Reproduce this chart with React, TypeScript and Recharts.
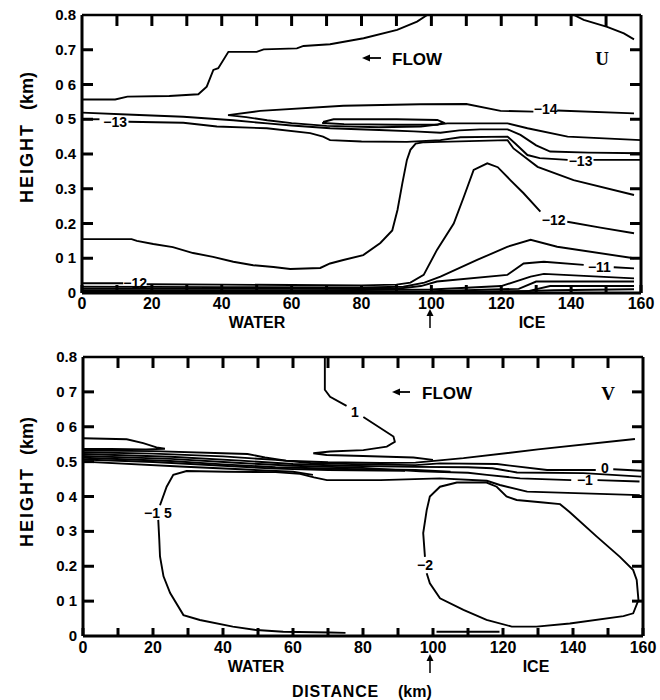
import React from 'react';
import { ScatterChart, Scatter, XAxis, YAxis, ReferenceDot, ReferenceLine } from 'recharts';

type P = [number, number];
type Path = (P | null)[];

const FONT = '"Liberation Sans", Arial, "DejaVu Sans", sans-serif';
const SERIF = '"Liberation Serif", "Times New Roman", serif';

// ---------- axes ----------
const X_MAX = 160;
const Y_MAX = 0.8;
const X_TICKS = [0, 10, 20, 30, 40, 50, 60, 70, 80, 90, 100, 110, 120, 130, 140, 150, 160];
const X_LABELED = [0, 20, 40, 60, 80, 100, 120, 140, 160];
const Y_TICKS = [0, 0.1, 0.2, 0.3, 0.4, 0.5, 0.6, 0.7, 0.8];
const U_Y_LABELS = ['0', '0 1', '0.2', '0.3', '0.4', '0 5', '0 6', '0.7', '0.8'];
const V_Y_LABELS = ['0', '0 1', '0.2', '0 3', '0 4', '0.5', '0 6', '0 7', '0.8'];
const X_INNER = X_TICKS.filter((v) => v > 0 && v < X_MAX);
const Y_INNER = Y_TICKS.filter((v) => v > 0.05 && v < 0.75);

// ---------- U panel contours (null = gap for a label) ----------
const U_UPPER: Path = [[0, 0.557], [9.5, 0.557], [13, 0.565], [25, 0.567], [33.3, 0.572], [35.7, 0.594], [37.6, 0.642], [39, 0.647], [41.9, 0.694], [50, 0.694], [52, 0.701], [61.5, 0.704], [63.4, 0.711], [71, 0.716], [80.6, 0.733], [90.2, 0.757], [95.9, 0.781], [98.8, 0.8]];
const U_TOPRIGHT: Path = [[140.8, 0.8], [143.6, 0.786], [150.3, 0.766], [155.1, 0.747], [158, 0.73]];
const U_M14: Path = [[158, 0.517], [136, 0.525], null, [129.2, 0.522], [119.8, 0.524], [110, 0.544], [96.8, 0.543], [74.8, 0.539], [51, 0.524], [41.8, 0.512], [47, 0.506], [53, 0.497], [60, 0.489], [70, 0.481], [85, 0.477], [97, 0.479], [104.6, 0.488], [121.8, 0.488], [127.5, 0.474], [139, 0.45], [160, 0.44]];
const U_OVAL: Path = [[69, 0.492], [72, 0.5], [90, 0.5], [101.7, 0.498], [103.4, 0.491], [101.7, 0.484], [90, 0.484], [75, 0.486], [69, 0.489], [69, 0.492]];
const U_A: Path = [[0, 0.519], [14.6, 0.513], [29, 0.507], [43.3, 0.497], [53, 0.488], [60, 0.482], [71, 0.474], [85, 0.469], [95, 0.465], [102.6, 0.461], [108, 0.468], [114, 0.471], [121.8, 0.471], [125.5, 0.455], [130, 0.425], [134, 0.407], [145, 0.404], [160, 0.402]];
const U_M13: Path = [[0, 0.5], [5, 0.5], null, [13.3, 0.493], [29, 0.49], [38.6, 0.479], [52.9, 0.474], [65.3, 0.46], [69, 0.45], [71, 0.44], [80, 0.436], [93, 0.435], [102.6, 0.44], [108.3, 0.448], [121.8, 0.45], [124, 0.43], [127.5, 0.397], [131, 0.388], [139, 0.383], null, [146.4, 0.383], [160, 0.383]];
const U_BIG: Path = [[0, 0.155], [14.2, 0.155], [15.7, 0.15], [20.4, 0.141], [26, 0.132], [31.8, 0.115], [37.5, 0.104], [43.3, 0.09], [49, 0.08], [54.8, 0.075], [59.6, 0.069], [68.2, 0.072], [71, 0.085], [74.8, 0.095], [80.5, 0.109], [85.4, 0.144], [88.8, 0.18], [90.3, 0.239], [91.7, 0.316], [93, 0.383], [94, 0.412], [95.5, 0.43], [98, 0.434], [102.6, 0.435], [121.8, 0.44], [123.5, 0.416], [130.4, 0.363], [140.7, 0.325], [158, 0.282]];
const U_M12: Path = [[0, 0.028], [11.8, 0.028], null, [18.5, 0.025], [40, 0.024], [60, 0.023], [80, 0.022], [90, 0.024], [94, 0.03], [97.8, 0.052], [101.6, 0.124], [106.4, 0.2], [109.3, 0.277], [112.1, 0.354], [116, 0.373], [119, 0.362], [122.6, 0.325], [126.4, 0.287], [131.2, 0.234], null, [138.9, 0.205], [148.4, 0.188], [158, 0.172]];
const U_M115: Path = [[0, 0.018], [40, 0.017], [80, 0.016], [92, 0.018], [98, 0.03], [102.6, 0.047], [113.1, 0.095], [121.7, 0.133], [128.4, 0.153], [136, 0.133], [158, 0.1]];
const U_M11: Path = [[0, 0.012], [50, 0.012], [90, 0.012], [97, 0.02], [101.6, 0.033], [121.7, 0.052], [126.4, 0.085], [132.2, 0.09], [143.6, 0.081], null, [152.2, 0.074], [158, 0.071]];
const U_LOW1: Path = [[0, 0.007], [60, 0.007], [100, 0.01], [120, 0.02], [128.4, 0.047], [132.2, 0.055], [158, 0.042]];
const U_LOW2: Path = [[0, 0.003], [100, 0.005], [125, 0.012], [130, 0.033], [158, 0.033]];
const U_LOW3: Path = [[90, 0.002], [128, 0.006], [134, 0.02], [158, 0.02]];
const U_LOW4: Path = [[115, 0.002], [135, 0.008], [158, 0.011]];

const U_LABELS = [
  { x: 9.5, y: 0.492, t: '\u221213' },
  { x: 132.7, y: 0.53, t: '\u221214' },
  { x: 142.7, y: 0.38, t: '\u221213' },
  { x: 135, y: 0.21, t: '\u221212' },
  { x: 148.1, y: 0.075, t: '\u221211' },
  { x: 15.2, y: 0.029, t: '\u221212' },
];

// ---------- V panel contours ----------
const V_P1: Path = [[69.1, 0.8], [69.1, 0.748], [69.1, 0.706], [70.6, 0.686], [75.3, 0.66], null, [80.1, 0.628], [88.7, 0.572], [89.1, 0.557], [86.8, 0.543], [80.1, 0.533], [70.6, 0.529], [65.8, 0.524], [69.6, 0.519], [80, 0.516], [94.4, 0.512], [100, 0.505]];
const V_TONGUE: Path = [[0, 0.567], [12.5, 0.564], [17.2, 0.553], [21, 0.541], [23.4, 0.537], [18, 0.535], [8, 0.536], [0, 0.536]];
const V_A: Path = [[0, 0.532], [20, 0.53], [40, 0.524], [47, 0.522], [52, 0.512], [58, 0.503], [70, 0.498], [85, 0.496], [95, 0.497], [108.7, 0.51], [130, 0.535], [157.7, 0.565]];
const V_ZERO: Path = [[0, 0.527], [20, 0.523], [40, 0.515], [55, 0.505], [65, 0.496], [80, 0.492], [95, 0.49], [102, 0.495], [118.3, 0.493], [132.6, 0.476], [146.5, 0.476], null, [151.5, 0.478], [159.7, 0.474]];
const V_C: Path = [[0, 0.522], [25, 0.514], [45, 0.503], [60, 0.493], [75, 0.488], [95, 0.485], [110, 0.484], [117, 0.481], [124, 0.469], [143, 0.467], [159.5, 0.457]];
const V_M1: Path = [[0, 0.516], [25, 0.508], [45, 0.496], [60, 0.488], [80, 0.482], [96.3, 0.472], [110, 0.468], [115.4, 0.462], [124.9, 0.452], [139.5, 0.447], null, [147, 0.447], [159, 0.443]];
const V_E: Path = [[0, 0.511], [25, 0.502], [40, 0.492], [55, 0.484], [75, 0.479], [95, 0.476], [105, 0.471]];
const V_F: Path = [[0, 0.506], [20, 0.499], [40, 0.488], [55, 0.48], [70, 0.476], [92, 0.474]];
const V_G: Path = [[0, 0.5], [27.7, 0.486], [45, 0.478], [60, 0.471], [65.7, 0.462]];
const V_M15: Path = [[75, 0.009], [70.6, 0.01], [57.2, 0.012], [49.6, 0.017], [42.8, 0.027], [33.4, 0.046], [28.7, 0.06], [24.9, 0.123], [23, 0.171], [22, 0.228], [21.8, 0.275], [21.5, 0.333], null, [22, 0.375], [23.9, 0.428], [25.8, 0.462], [29.6, 0.473], [41, 0.471], [55, 0.47], [62, 0.465], [66, 0.455], [69.7, 0.447], [85, 0.447], [102, 0.452], [115.4, 0.445], [119.1, 0.433], [126.9, 0.414], [159.1, 0.404]];
const V_M2: Path = [[97.7, 0.227], [97.2, 0.295], [98.2, 0.361], [99.1, 0.4], [102, 0.428], [106.8, 0.44], [115.3, 0.44], [118.2, 0.428], [121, 0.4], [123.9, 0.39], [131.5, 0.383], [136.3, 0.378], [139.1, 0.355], [146.8, 0.285], [153.4, 0.227], [157.2, 0.189], [158.2, 0.161], [158.7, 0.103], [157.2, 0.065], [154.4, 0.057], [139.1, 0.036], [129.6, 0.027], [122.5, 0.027], [115.3, 0.046], [108.7, 0.075], [102, 0.108], [99.1, 0.151], [98.2, 0.18]];
const V_LOW: Path = [[101, 0.012], [119, 0.012]];

const V_LABELS = [
  { x: 77.7, y: 0.642, t: '1' },
  { x: 21.4, y: 0.354, t: '\u22121 5' },
  { x: 97.7, y: 0.204, t: '\u22122' },
  { x: 149.1, y: 0.482, t: '0' },
  { x: 143.4, y: 0.447, t: '\u22121' },
];

const U_PATHS: Path[] = [U_UPPER, U_TOPRIGHT, U_M14, U_OVAL, U_A, U_M13, U_BIG, U_M12, U_M115, U_M11, U_LOW1, U_LOW2, U_LOW3, U_LOW4];
const V_PATHS: Path[] = [V_P1, V_TONGUE, V_A, V_ZERO, V_C, V_M1, V_E, V_F, V_G, V_M15, V_M2, V_LOW];

function splitPath(p: Path): { x: number; y: number }[][] {
  const segs: { x: number; y: number }[][] = [];
  let cur: { x: number; y: number }[] = [];
  for (const pt of p) {
    if (pt === null) {
      if (cur.length) segs.push(cur);
      cur = [];
    } else cur.push({ x: pt[0], y: pt[1] });
  }
  if (cur.length) segs.push(cur);
  return segs;
}

const noShape = () => <g />;
const TICK_LINE = { stroke: '#000', strokeWidth: 3 };

type PanelProps = {
  top: number;
  L: number;
  R: number;
  T: number;
  B: number;
  H: number;
  paths: Path[];
  labels: { x: number; y: number; t: string }[];
  yLabels: string[];
  labelDy: number;
};

// Inward frame ticks on the top, left and right edges (axis furniture, not data)
function FrameTicks({ L, R, T, B, H }: { L: number; R: number; T: number; B: number; H: number }) {
  const sx = (v: number) => L + (v / X_MAX) * (R - L);
  const sy = (v: number) => B - (v / Y_MAX) * (B - T);
  return (
    <svg width={660} height={H} style={{ position: 'absolute', left: 0, top: 0, pointerEvents: 'none', zIndex: 5 }}>
      {X_INNER.map((v) => (
        <line key={`t${v}`} x1={sx(v)} x2={sx(v)} y1={T} y2={T + 11} stroke="#000" strokeWidth={3} />
      ))}
      {Y_INNER.map((v) => (
        <line key={`l${v}`} x1={L} x2={L + 11} y1={sy(v)} y2={sy(v)} stroke="#000" strokeWidth={3} />
      ))}
      {Y_INNER.map((v) => (
        <line key={`r${v}`} x1={R - 11} x2={R} y1={sy(v)} y2={sy(v)} stroke="#000" strokeWidth={3} />
      ))}
    </svg>
  );
}

function Panel({ top, L, R, T, B, H, paths, labels, yLabels, labelDy }: PanelProps) {
  const xTick = (props: any) => {
    const { x, payload } = props;
    const v = payload.value;
    if (!X_LABELED.includes(v)) return <g />;
    return (
      <text x={x} y={B + labelDy} textAnchor="middle" fontFamily={FONT} fontWeight={700} fontSize={16} fill="#000">
        {v}
      </text>
    );
  };
  const yTick = (props: any) => {
    const { y, payload } = props;
    const idx = Math.round(payload.value * 10);
    return (
      <text x={L - 6} y={y + 5} textAnchor="end" fontFamily={FONT} fontWeight={700} fontSize={15} fill="#000">
        {yLabels[idx]}
      </text>
    );
  };
  const series: React.ReactNode[] = [];
  paths.forEach((p, i) => {
    splitPath(p).forEach((seg, j) => {
      series.push(
        <Scatter
          key={`s${i}-${j}`}
          data={seg}
          line={{ stroke: '#000', strokeWidth: 1.9, fill: 'none' }}
          lineJointType="linear"
          shape={noShape}
          fill="#000"
          isAnimationActive={false}
        />
      );
    });
  });
  return (
    <div style={{ position: 'absolute', left: 0, top, width: 660, height: H }}>
      <ScatterChart width={660} height={H} margin={{ top: T, right: 660 - R, bottom: H - B - 30, left: L - 40 }}>
        <XAxis
          dataKey="x"
          type="number"
          domain={[0, X_MAX]}
          allowDataOverflow
          ticks={X_TICKS}
          interval={0}
          tickLine={TICK_LINE}
          tickSize={-8}
          tick={xTick}
          height={30}
          axisLine={{ stroke: '#000', strokeWidth: 3 }}
        />
        <YAxis
          dataKey="y"
          type="number"
          domain={[0, Y_MAX]}
          allowDataOverflow
          ticks={Y_TICKS}
          interval={0}
          tickLine={false}
          tick={yTick}
          width={40}
          axisLine={{ stroke: '#000', strokeWidth: 3 }}
        />
        <ReferenceLine y={Y_MAX} stroke="#000" strokeWidth={2.5} />
        <ReferenceLine x={X_MAX} stroke="#000" strokeWidth={3} />
        {series}
        {labels.map((l, i) => (
          <ReferenceDot
            key={`l${i}`}
            x={l.x}
            y={l.y}
            r={2}
            shape={(p: any) => (
              <text x={p.cx} y={p.cy + 5} textAnchor="middle" fontFamily={FONT} fontWeight={700} fontSize={14} fill="#000">
                {l.t}
              </text>
            )}
          />
        ))}
      </ScatterChart>
      <FrameTicks L={L} R={R} T={T} B={B} H={H} />
    </div>
  );
}

const txt = { fontFamily: FONT, fontWeight: 700, fill: '#000' } as const;

function Overlay() {
  return (
    <svg width={660} height={700} style={{ position: 'absolute', left: 0, top: 0, pointerEvents: 'none' }}>
      {/* top panel */}
      <text {...txt} fontSize={18} letterSpacing={2} x={33} y={203} transform="rotate(-90 33 203)">HEIGHT</text>
      <text {...txt} fontSize={18} x={33} y={110} transform="rotate(-90 33 110)">(km)</text>
      <text {...txt} fontSize={16} x={257} y={328} textAnchor="middle">WATER</text>
      <text {...txt} fontSize={16} x={532} y={328} textAnchor="middle">ICE</text>
      <line x1={430} x2={430} y1={328} y2={314} stroke="#000" strokeWidth={1.5} />
      <path d="M426.5,316 L430,309 L433.5,316 Z" fill="#000" />
      <line x1={381} x2={368} y1={58} y2={58} stroke="#000" strokeWidth={1.8} />
      <path d="M370,54.5 L362,58 L370,61.5 Z" fill="#000" />
      <text {...txt} fontSize={17} x={392} y={65}>FLOW</text>
      <text fontFamily={SERIF} fontWeight={700} fill="#000" fontSize={19} x={602} y={65} textAnchor="middle">U</text>

      {/* bottom panel */}
      <text {...txt} fontSize={18} letterSpacing={2} x={33} y={547} transform="rotate(-90 33 547)">HEIGHT</text>
      <text {...txt} fontSize={18} x={33} y={455} transform="rotate(-90 33 455)">(km)</text>
      <text {...txt} fontSize={16} x={256} y={672} textAnchor="middle">WATER</text>
      <text {...txt} fontSize={16} x={536} y={672} textAnchor="middle">ICE</text>
      <line x1={430} x2={430} y1={673} y2={659} stroke="#000" strokeWidth={1.5} />
      <path d="M426.5,661 L430,654 L433.5,661 Z" fill="#000" />
      <line x1={410} x2={398} y1={392} y2={392} stroke="#000" strokeWidth={1.8} />
      <path d="M400,388.5 L392,392 L400,395.5 Z" fill="#000" />
      <text {...txt} fontSize={17} x={422} y={399}>FLOW</text>
      <text fontFamily={SERIF} fontWeight={700} fill="#000" fontSize={19} x={608} y={400} textAnchor="middle">V</text>
      <text {...txt} fontSize={16} letterSpacing={0.8} x={292} y={697}>DISTANCE</text>
      <text {...txt} fontSize={16} x={398} y={697}>(km)</text>
    </svg>
  );
}

export default function App() {
  return (
    <div style={{ position: 'absolute', left: 0, top: 0, width: 660, height: 700, background: '#fff', fontFamily: FONT }}>
      <Panel top={0} L={82} R={641} T={15} B={293} H={340} paths={U_PATHS} labels={U_LABELS} yLabels={U_Y_LABELS} labelDy={16} />
      <Panel top={342} L={83} R={643} T={15} B={294} H={340} paths={V_PATHS} labels={V_LABELS} yLabels={V_Y_LABELS} labelDy={17} />
      <Overlay />
    </div>
  );
}
